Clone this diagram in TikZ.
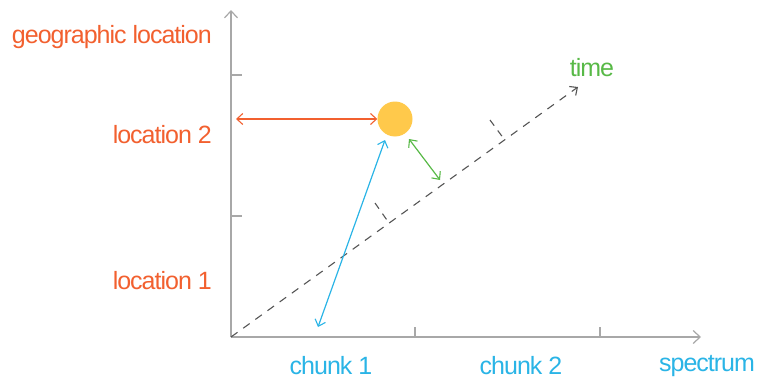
\documentclass[tikz,border=0pt]{standalone}
\usepackage{fontspec}
\setmainfont{Liberation Sans}[LetterSpace=-4]
\usetikzlibrary{arrows.meta}
\definecolor{cor}{HTML}{F2602F}
\definecolor{cbl}{HTML}{2AB4E6}
\definecolor{cgr}{HTML}{58B947}
\definecolor{cax}{HTML}{A8A8A8}
\definecolor{cdash}{HTML}{555555}
\definecolor{cdot}{HTML}{FFC94B}
\tikzset{
  lbl/.style={font=\fontsize{25}{25}\selectfont, inner sep=0pt},
  axis/.style={draw=cax, line width=1.3pt, -{Straight Barb[length=7pt,width=13pt,line width=1.2pt]}},
  axtick/.style={draw=cax, line width=1.3pt},
  dbl/.style={line width=1.2pt, {Straight Barb[length=6pt,width=11pt,line width=1.1pt]}-{Straight Barb[length=6pt,width=11pt,line width=1.1pt]}},
  ttick/.style={draw=cdash, line width=1.1pt, dash pattern=on 7pt off 6pt},
}
\begin{document}
\begin{tikzpicture}[x=1pt,y=-1pt]
\useasboundingbox (0,0) rectangle (769,380);
% axes
\coordinate (O) at (231,337);
\coordinate (Ytop) at (231,10);
\coordinate (Xend) at (701,337);
\coordinate (Tend) at (578,87);
\draw[axis] (O) -- (Ytop);
\draw[axis] (O) -- (Xend);
\draw[axtick] (231,75) -- (242,75);
\draw[axtick] (231,216) -- (242,216);
\draw[axtick] (415,337) -- (415,327);
\draw[axtick] (600,337) -- (600,327);
% time axis
\draw[draw=cdash, line width=1.1pt, dash pattern=on 8pt off 7pt, -{Straight Barb[length=6pt,width=11pt,line width=1.1pt]}] (O) -- (Tend);
\draw[ttick] (375,203) -- (389,223);
\draw[ttick] (490,120) -- (504,139);
% point
\node[circle, fill=cdot, minimum size=35pt, inner sep=0pt] (P) at (395,119) {};
% arrows
\coordinate (L2) at (236,119);
\coordinate (B1) at (318,327);
\coordinate (G1) at (440,180);
\draw[dbl, draw=cor] (L2) -- (P.west);
\draw[dbl, draw=cbl] (B1) -- (385,140);
\draw[dbl, draw=cgr] (G1) -- (409,139);
% labels
\node[lbl, text=cor, anchor=east] (geo) at (212,37) {geographic location};
\node[lbl, text=cor, anchor=east] (loc2) at (212,135) {location 2};
\node[lbl, text=cor, anchor=east] (loc1) at (212,281) {location 1};
\node[lbl, text=cbl] (ch1) at (331,366) {chunk 1};
\node[lbl, text=cbl] (ch2) at (521,366) {chunk 2};
\node[lbl, text=cbl] (spec) at (707,366) {spectrum};
\node[lbl, text=cgr] (time) at (592,68) {time};
\end{tikzpicture}
\end{document}
